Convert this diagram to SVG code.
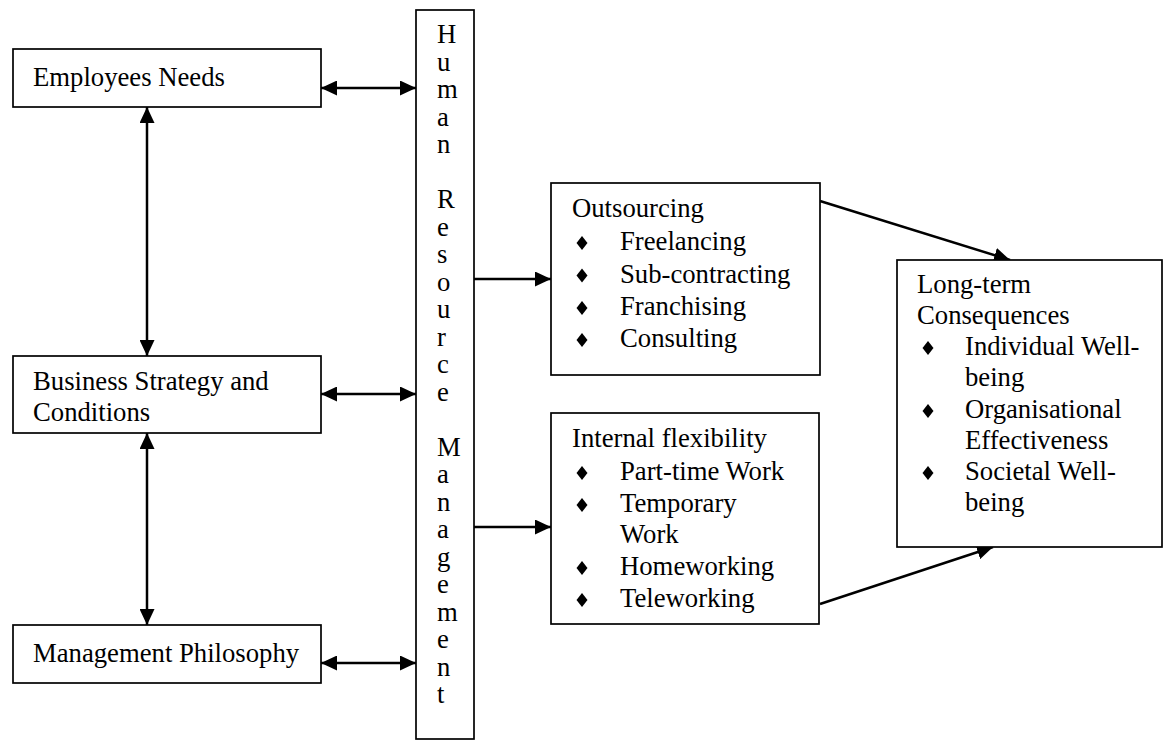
<svg xmlns="http://www.w3.org/2000/svg" width="1167" height="740" viewBox="0 0 1167 740">
<style>
.box{fill:#fff;stroke:#000;stroke-width:1.7}
.t{font-family:"Liberation Serif","Times New Roman",serif;font-size:26.7px;fill:#000}
.c{fill:none;stroke:#000;stroke-width:2.5}
</style>
<defs>
<marker id="ah" viewBox="0 0 16 15" refX="16" refY="7.5" markerWidth="16" markerHeight="15" markerUnits="userSpaceOnUse" orient="auto-start-reverse">
<path d="M0,0 L16,7.5 L0,15 Z" fill="#000"/>
</marker>
<path id="dia" d="M0,-7 L5.5,0 L0,7 L-5.5,0 Z" fill="#000"/>
</defs>
<g id="connectors">
<line class="c" x1="321" y1="88" x2="416" y2="88" marker-start="url(#ah)" marker-end="url(#ah)"/>
<line class="c" x1="321" y1="394" x2="416" y2="394" marker-start="url(#ah)" marker-end="url(#ah)"/>
<line class="c" x1="321" y1="663" x2="416" y2="663" marker-start="url(#ah)" marker-end="url(#ah)"/>
<line class="c" x1="147" y1="107" x2="147" y2="356" marker-start="url(#ah)" marker-end="url(#ah)"/>
<line class="c" x1="147" y1="433" x2="147" y2="625" marker-start="url(#ah)" marker-end="url(#ah)"/>
<line class="c" x1="474" y1="279" x2="551" y2="279" marker-end="url(#ah)"/>
<line class="c" x1="474" y1="527" x2="551" y2="527" marker-end="url(#ah)"/>
<line class="c" x1="820" y1="201" x2="1010" y2="260" marker-end="url(#ah)"/>
<line class="c" x1="820" y1="604" x2="993" y2="547" marker-end="url(#ah)"/>
</g>
<g id="employees-needs">
<rect class="box" x="13" y="49" width="308" height="58"/>
<text class="t" x="33" y="86">Employees Needs</text>
</g>
<g id="business-strategy">
<rect class="box" x="13" y="356" width="308" height="77"/>
<text class="t" x="33" y="390">Business Strategy and</text>
<text class="t" x="33" y="421">Conditions</text>
</g>
<g id="management-philosophy">
<rect class="box" x="13" y="625" width="308" height="58"/>
<text class="t" x="33" y="662">Management Philosophy</text>
</g>
<g id="hrm">
<rect class="box" x="416" y="10" width="58" height="729"/>
<text class="t" x="437">
<tspan x="437" y="43">H</tspan><tspan x="437" y="70.5">u</tspan><tspan x="437" y="98">m</tspan><tspan x="437" y="125.5">a</tspan><tspan x="437" y="153">n</tspan>
<tspan x="437" y="208">R</tspan><tspan x="437" y="235.5">e</tspan><tspan x="437" y="263">s</tspan><tspan x="437" y="290.5">o</tspan><tspan x="437" y="318">u</tspan><tspan x="437" y="345.5">r</tspan><tspan x="437" y="373">c</tspan><tspan x="437" y="400.5">e</tspan>
<tspan x="437" y="455.5">M</tspan><tspan x="437" y="483">a</tspan><tspan x="437" y="510.5">n</tspan><tspan x="437" y="538">a</tspan><tspan x="437" y="565.5">g</tspan><tspan x="437" y="593">e</tspan><tspan x="437" y="620.5">m</tspan><tspan x="437" y="648">e</tspan><tspan x="437" y="675.5">n</tspan><tspan x="437" y="703">t</tspan>
</text>
</g>
<g id="outsourcing">
<rect class="box" x="551" y="183" width="269" height="192"/>
<text class="t" x="572" y="217">Outsourcing</text>
<use href="#dia" x="582" y="243"/>
<use href="#dia" x="582" y="275.5"/>
<use href="#dia" x="582" y="308"/>
<use href="#dia" x="582" y="340"/>
<text class="t" x="620" y="250">Freelancing</text>
<text class="t" x="620" y="282.5">Sub-contracting</text>
<text class="t" x="620" y="315">Franchising</text>
<text class="t" x="620" y="347">Consulting</text>
</g>
<g id="internal-flexibility">
<rect class="box" x="551" y="413" width="268" height="211"/>
<text class="t" x="572" y="447">Internal flexibility</text>
<use href="#dia" x="582" y="473"/>
<use href="#dia" x="582" y="505"/>
<use href="#dia" x="582" y="568"/>
<use href="#dia" x="582" y="600"/>
<text class="t" x="620" y="480">Part-time Work</text>
<text class="t" x="620" y="512">Temporary</text>
<text class="t" x="620" y="543">Work</text>
<text class="t" x="620" y="575">Homeworking</text>
<text class="t" x="620" y="607">Teleworking</text>
</g>
<g id="long-term-consequences">
<rect class="box" x="897" y="260" width="265" height="287"/>
<text class="t" x="917" y="293">Long-term</text>
<text class="t" x="917" y="324">Consequences</text>
<use href="#dia" x="928" y="348"/>
<use href="#dia" x="928" y="411"/>
<use href="#dia" x="928" y="473"/>
<text class="t" x="965" y="355">Individual Well-</text>
<text class="t" x="965" y="386">being</text>
<text class="t" x="965" y="418">Organisational</text>
<text class="t" x="965" y="449">Effectiveness</text>
<text class="t" x="965" y="480">Societal Well-</text>
<text class="t" x="965" y="511">being</text>
</g>
</svg>
